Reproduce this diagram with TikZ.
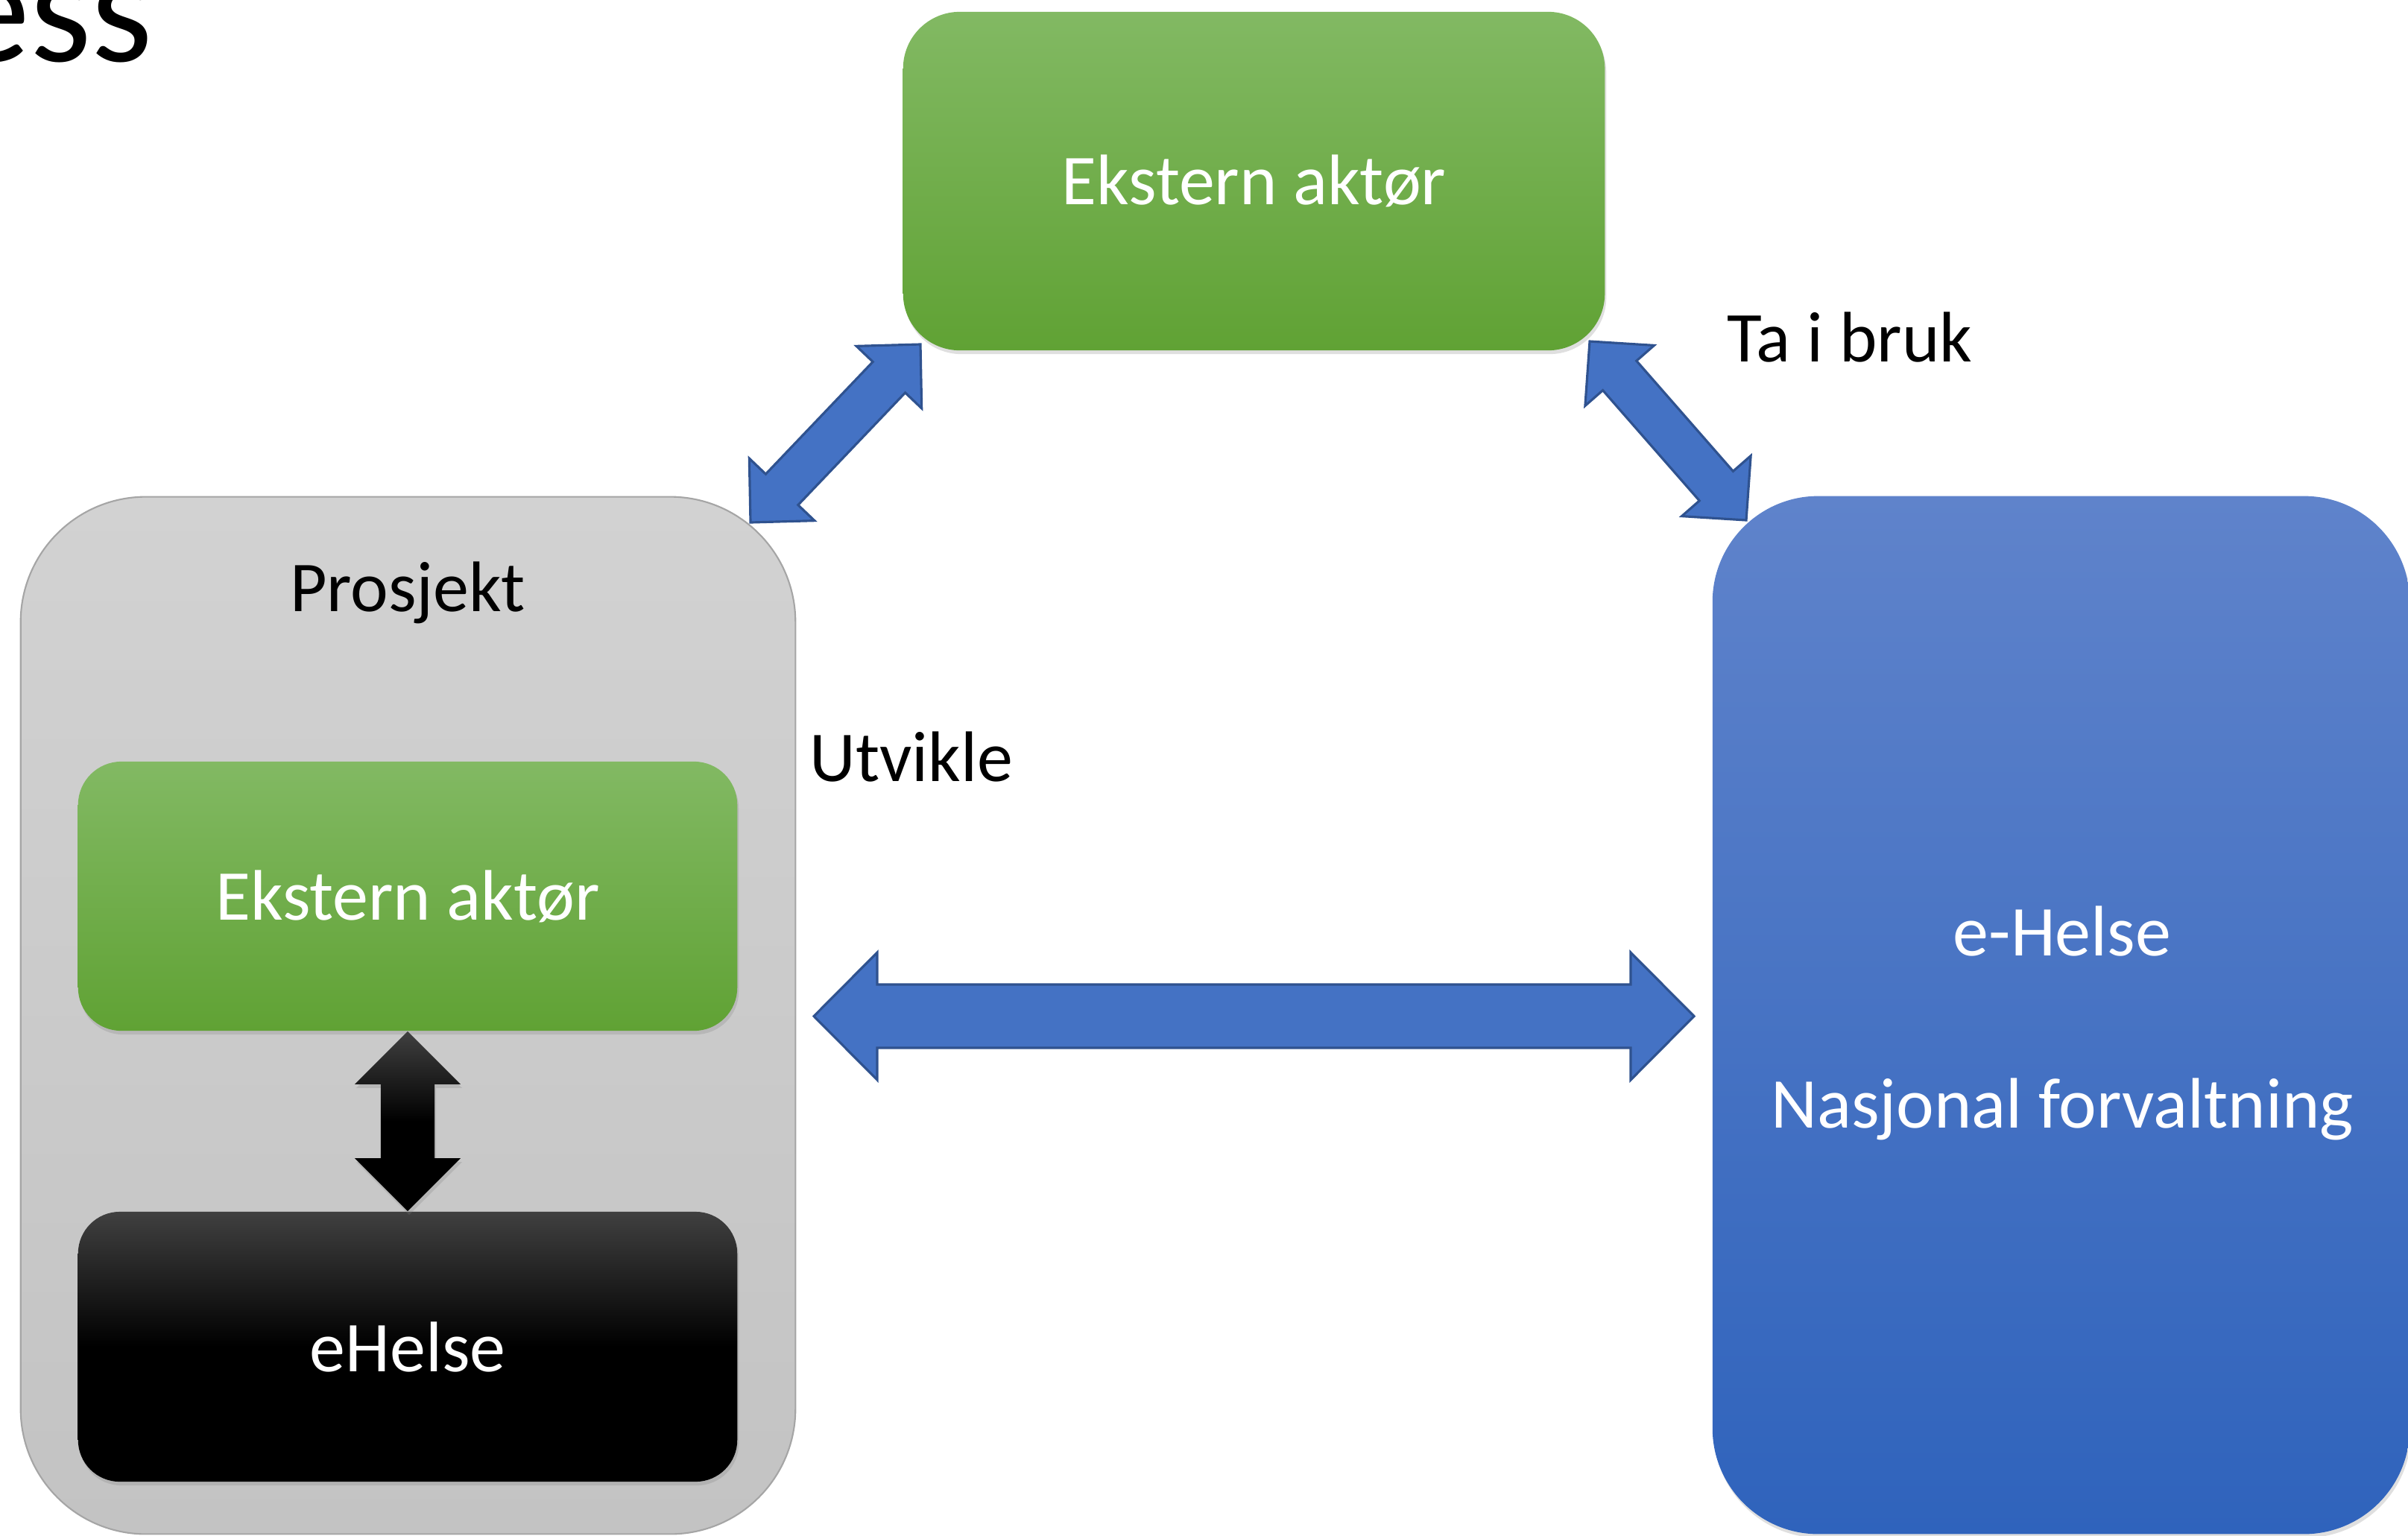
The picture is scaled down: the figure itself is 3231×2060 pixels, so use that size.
\documentclass[tikz,border=0pt]{standalone}
\usepackage{fontspec}
\setmainfont{Carlito}
\usetikzlibrary{calc,shadows}
\definecolor{grnTop}{HTML}{82B963}
\definecolor{grnBot}{HTML}{60A234}
\definecolor{bluTop}{HTML}{5F83CB}
\definecolor{bluBot}{HTML}{2F63BC}
\definecolor{gryTop}{HTML}{D2D2D2}
\definecolor{gryBot}{HTML}{C3C3C3}
\definecolor{gryEdge}{HTML}{A5A5A5}
\definecolor{arrFill}{HTML}{4472C4}
\definecolor{arrEdge}{HTML}{2F528F}
\definecolor{blkTop}{HTML}{404040}
% #1 style, #2 tip A, #3 tip B, #4 head length, #5 head half width, #6 shaft half width
\newcommand{\dblblockarrow}[6]{%
  \path[#1] (#2)
    -- ($(#2)!#4!(#3)!#5!90:(#3)$)
    -- ($(#2)!#4!(#3)!#6!90:(#3)$)
    -- ($(#3)!#4!(#2)!#6!-90:(#2)$)
    -- ($(#3)!#4!(#2)!#5!-90:(#2)$)
    -- (#3)
    -- ($(#3)!#4!(#2)!#5!90:(#2)$)
    -- ($(#3)!#4!(#2)!#6!90:(#2)$)
    -- ($(#2)!#4!(#3)!#6!-90:(#3)$)
    -- ($(#2)!#4!(#3)!#5!-90:(#3)$)
    -- cycle;}
\begin{document}
\begin{tikzpicture}[x=0.01cm,y=-0.01cm,
  txt/.style={font=\fontsize{27.3}{32.8}\selectfont, inner sep=0pt},
  softshadow/.style={drop shadow={shadow xshift=0.02cm, shadow yshift=-0.05cm, opacity=0.25}},
  greenbox/.style={rectangle, rounded corners=#1, top color=grnTop, bottom color=grnBot,
    draw=none, text=white, txt, softshadow},
  blackbox/.style={rectangle, rounded corners=#1, top color=blkTop, bottom color=black,
    middle color=black, draw=none, text=white, txt, softshadow},
  graybox/.style={rectangle, rounded corners=#1, top color=gryTop, bottom color=gryBot,
    draw=gryEdge, line width=0.6pt},
  bluebox/.style={rectangle, rounded corners=#1, top color=bluTop, bottom color=bluBot,
    draw=none, softshadow},
  bluetext/.style={txt, text=white, align=center},
  bluearrow/.style={fill=arrFill, draw=arrEdge, line width=0.9pt, line join=miter},
  blackarrow/.style={top color=blkTop, bottom color=black, middle color=black, softshadow},
  label/.style={txt, text=black}
]
\useasboundingbox (0,0) rectangle (3231,2060);

% title fragment
\node[font=\fontsize{60}{72}\selectfont, anchor=base east, inner sep=0pt] (title) at (206,82) {ess};

% boxes
\node[greenbox=0.76cm, minimum width=9.41cm, minimum height=4.54cm] (ext1) at (1682.5,243) {Ekstern aktør};
\node[graybox=1.68cm, minimum width=10.39cm, minimum height=13.91cm] (proj) at (547.5,1362.5) {};
\node[label, anchor=base] (projlabel) at (547,820) {Prosjekt};
\node[greenbox=0.58cm, minimum width=8.84cm, minimum height=3.61cm] (ext2) at (547,1202.5) {Ekstern aktør};
\node[blackbox=0.56cm, minimum width=8.84cm, minimum height=3.62cm] (ehb) at (547,1807) {eHelse};
\node[bluebox=1.42cm, minimum width=9.35cm, minimum height=13.92cm] (nat) at (2765.5,1362) {};
\node[bluetext] (natlabel) at (2767,1373) {e-Helse\\[32.9pt]Nasjonal forvaltning};

% arrow end points
\coordinate (a1) at (1007,701);
\coordinate (b1) at (1235,462);
\coordinate (a2) at (2133,458);
\coordinate (b2) at (2343,698);
\coordinate (a3) at (1092,1363.5);
\coordinate (b3) at (2273,1363.5);

% arrows
\dblblockarrow{bluearrow}{a1}{b1}{0.61cm}{0.605cm}{0.30cm}
\dblblockarrow{bluearrow}{a2}{b2}{0.61cm}{0.615cm}{0.30cm}
\dblblockarrow{bluearrow}{a3}{b3}{0.85cm}{0.855cm}{0.425cm}
\dblblockarrow{blackarrow}{ext2.south}{ehb.north}{0.71cm}{0.71cm}{0.36cm}

% labels
\node[label, anchor=base] (tabruk) at (2482,485) {Ta i bruk};
\node[label, anchor=base] (utvikle) at (1223,1048) {Utvikle};
\end{tikzpicture}
\end{document}
